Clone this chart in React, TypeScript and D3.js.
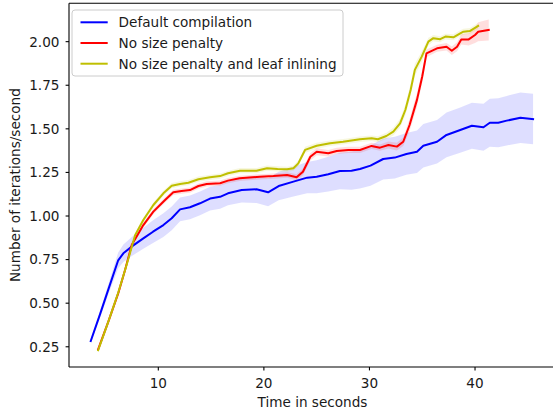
import React from "react";
import * as d3 from "d3";

// Default compilation
const defaultTime = [3.6, 4.5, 5.3, 6.2, 6.69, 7.6, 8.58, 9.5, 10.48, 11.27, 12.06, 13.0, 13.95, 14.9, 15.85, 16.6, 17.9, 19.3, 20.4, 21.4, 22.8, 24.1, 25.0, 26.1, 27.2, 28.3, 29.1, 30.1, 31.3, 32.4, 33.5, 34.5, 35.1, 36.4, 37.3, 38.6, 39.7, 40.8, 41.4, 42.2, 43.0, 44.3, 45.5];
const defaultRate = [0.283, 0.44, 0.585, 0.746, 0.786, 0.83, 0.872, 0.91, 0.948, 0.987, 1.038, 1.05, 1.073, 1.10, 1.11, 1.13, 1.149, 1.153, 1.136, 1.172, 1.197, 1.22, 1.225, 1.24, 1.258, 1.26, 1.27, 1.289, 1.327, 1.335, 1.356, 1.369, 1.403, 1.426, 1.465, 1.493, 1.518, 1.509, 1.535, 1.535, 1.547, 1.564, 1.556];
const defaultSpread = [0.01, 0.02, 0.03, 0.045, 0.05, 0.055, 0.06, 0.065, 0.068, 0.068, 0.068, 0.068, 0.068, 0.068, 0.068, 0.068, 0.072, 0.078, 0.08, 0.082, 0.085, 0.09, 0.095, 0.1, 0.105, 0.11, 0.112, 0.115, 0.118, 0.12, 0.12, 0.122, 0.125, 0.125, 0.128, 0.13, 0.132, 0.135, 0.138, 0.14, 0.142, 0.145, 0.145];

// No size penalty
const noPenaltyTime = [4.3, 5.3, 6.2, 6.85, 7.48, 8.58, 9.53, 10.64, 11.42, 12.2, 13.0, 13.8, 14.58, 15.85, 16.6, 17.7, 19.6, 20.9, 22.2, 23.1, 23.7, 24.4, 25.0, 26.1, 26.9, 28.0, 29.1, 30.2, 31.0, 31.8, 32.6, 33.2, 33.8, 34.5, 35.0, 35.4, 36.4, 37.3, 37.8, 38.3, 38.7, 39.4, 40.0, 40.3, 41.3];
const noPenaltyRate = [0.235, 0.40, 0.556, 0.69, 0.834, 0.948, 1.025, 1.092, 1.136, 1.143, 1.149, 1.172, 1.184, 1.188, 1.203, 1.216, 1.225, 1.229, 1.235, 1.222, 1.254, 1.34, 1.369, 1.36, 1.373, 1.379, 1.379, 1.402, 1.392, 1.407, 1.398, 1.426, 1.522, 1.666, 1.80, 1.933, 1.962, 1.971, 1.948, 1.971, 2.013, 2.013, 2.038, 2.057, 2.067];
const noPenaltySpread = [0.004, 0.006, 0.008, 0.01, 0.012, 0.014, 0.015, 0.015, 0.015, 0.015, 0.015, 0.015, 0.015, 0.015, 0.015, 0.015, 0.015, 0.015, 0.016, 0.017, 0.02, 0.022, 0.02, 0.018, 0.018, 0.018, 0.018, 0.018, 0.018, 0.02, 0.022, 0.025, 0.035, 0.04, 0.035, 0.022, 0.02, 0.022, 0.024, 0.026, 0.03, 0.035, 0.045, 0.055, 0.06];

// No size penalty and leaf inlining
const leafTime = [4.3, 5.3, 6.2, 7.0, 7.8, 8.58, 9.53, 10.48, 11.27, 12.06, 12.85, 13.8, 14.9, 15.85, 16.6, 17.74, 19.3, 20.3, 21.3, 22.2, 22.8, 23.26, 23.9, 25.0, 26.27, 27.5, 29.1, 30.2, 30.8, 31.6, 32.26, 32.9, 33.4, 33.9, 34.3, 34.95, 35.58, 36.05, 36.7, 37.2, 37.95, 38.6, 38.9, 39.5, 40.3];
const leafRate = [0.23, 0.40, 0.56, 0.72, 0.89, 0.977, 1.063, 1.13, 1.174, 1.184, 1.191, 1.211, 1.222, 1.229, 1.245, 1.26, 1.26, 1.274, 1.27, 1.268, 1.274, 1.302, 1.379, 1.403, 1.417, 1.426, 1.44, 1.446, 1.44, 1.459, 1.484, 1.532, 1.608, 1.723, 1.838, 1.914, 2.00, 2.02, 2.014, 2.029, 2.025, 2.048, 2.057, 2.061, 2.09];
const leafSpread = [0.004, 0.006, 0.008, 0.01, 0.012, 0.014, 0.015, 0.015, 0.015, 0.015, 0.015, 0.015, 0.015, 0.015, 0.015, 0.015, 0.015, 0.015, 0.015, 0.015, 0.015, 0.016, 0.018, 0.017, 0.016, 0.016, 0.016, 0.016, 0.017, 0.018, 0.022, 0.026, 0.03, 0.035, 0.035, 0.03, 0.022, 0.018, 0.017, 0.017, 0.017, 0.017, 0.017, 0.017, 0.017];

const seriesNames = ["Default compilation", "No size penalty", "No size penalty and leaf inlining"];
const seriesColors = ["#0000ff", "#ff0000", "#bfbf00"];

const xTicks = [10, 20, 30, 40];
const yTicks = [0.25, 0.5, 0.75, 1.0, 1.25, 1.5, 1.75, 2.0];

const W = 553;
const H = 412;
const plot = { left: 69, right: 556, top: 3.3, bottom: 367 };
const FONT = "'DejaVu Sans', sans-serif";
const FS = 13.6;
const TEXT = "#1a1a1a";

type Pt = { t: number; v: number; s: number };

function zip(t: number[], v: number[], s: number[]): Pt[] {
  return t.map((tt, i) => ({ t: tt, v: v[i], s: s[i] }));
}

export default function App() {
  const x = d3.scaleLinear().domain([1.54, 47.67]).range([plot.left, plot.right]);
  const y = d3.scaleLinear().domain([0.134, 2.22]).range([plot.bottom, plot.top]);

  const series = [
    zip(defaultTime, defaultRate, defaultSpread),
    zip(noPenaltyTime, noPenaltyRate, noPenaltySpread),
    zip(leafTime, leafRate, leafSpread),
  ];

  const line = d3.line<Pt>().x((d) => x(d.t)).y((d) => y(d.v));
  const area = d3
    .area<Pt>()
    .x((d) => x(d.t))
    .y0((d) => y(d.v - d.s))
    .y1((d) => y(d.v + d.s));

  const legend = { x: 72, y: 10, w: 271, h: 66, rowY: [22.3, 43.0, 63.7] };

  return (
    <svg
      width={W}
      height={H}
      style={{ position: "absolute", left: 0, top: 0, background: "#fff" }}
      fontFamily={FONT}
    >
      <defs>
        <clipPath id="plot-clip">
          <rect x={plot.left} y={plot.top} width={plot.right - plot.left} height={plot.bottom - plot.top} />
        </clipPath>
      </defs>
      <rect width={W} height={H} fill="#fff" />

      <g clipPath="url(#plot-clip)">
        {series.map((pts, i) => (
          <path key={"band" + i} d={area(pts) || ""} fill={seriesColors[i]} fillOpacity={0.13} stroke="none" />
        ))}
        {series.map((pts, i) => (
          <path
            key={"line" + i}
            d={line(pts) || ""}
            fill="none"
            stroke={seriesColors[i]}
            strokeWidth={2}
            strokeLinejoin="round"
            strokeLinecap="square"
          />
        ))}
      </g>

      {/* spines */}
      <g stroke="#000" strokeWidth={1.1} fill="none">
        <line x1={plot.left} x2={plot.left} y1={plot.top} y2={plot.bottom} />
        <line x1={plot.left} x2={plot.right} y1={plot.bottom} y2={plot.bottom} />
        <line x1={plot.left} x2={plot.right} y1={plot.top} y2={plot.top} />
        <line x1={plot.right} x2={plot.right} y1={plot.top} y2={plot.bottom} />
      </g>

      {/* x axis */}
      {xTicks.map((t) => (
        <g key={"xt" + t}>
          <line x1={x(t)} x2={x(t)} y1={plot.bottom} y2={plot.bottom + 3.4} stroke="#000" strokeWidth={1.1} />
          <text x={x(t)} y={388} fontSize={FS} textAnchor="middle" fill={TEXT}>
            {t}
          </text>
        </g>
      ))}
      <text x={(plot.left + plot.right) / 2} y={406.5} fontSize={FS} textAnchor="middle" fill={TEXT}>
        Time in seconds
      </text>

      {/* y axis */}
      {yTicks.map((v) => (
        <g key={"yt" + v}>
          <line x1={plot.left - 3.4} x2={plot.left} y1={y(v)} y2={y(v)} stroke="#000" strokeWidth={1.1} />
          <text x={59.5} y={y(v) + 4.9} fontSize={FS} textAnchor="end" fill={TEXT}>
            {v.toFixed(2)}
          </text>
        </g>
      ))}
      <text
        transform={`translate(20,${(plot.top + plot.bottom) / 2}) rotate(-90)`}
        fontSize={FS}
        textAnchor="middle"
        fill={TEXT}
      >
        Number of iterations/second
      </text>

      {/* legend */}
      <rect
        x={legend.x}
        y={legend.y}
        width={legend.w}
        height={legend.h}
        rx={3}
        fill="#fff"
        fillOpacity={0.8}
        stroke="#cccccc"
        strokeWidth={1}
      />
      {seriesNames.map((name, i) => (
        <g key={"lg" + i}>
          <line
            x1={80.5}
            x2={107.7}
            y1={legend.rowY[i]}
            y2={legend.rowY[i]}
            stroke={seriesColors[i]}
            strokeWidth={2}
          />
          <text x={118.6} y={legend.rowY[i] + 4.9} fontSize={FS} fill={TEXT}>
            {name}
          </text>
        </g>
      ))}
    </svg>
  );
}
